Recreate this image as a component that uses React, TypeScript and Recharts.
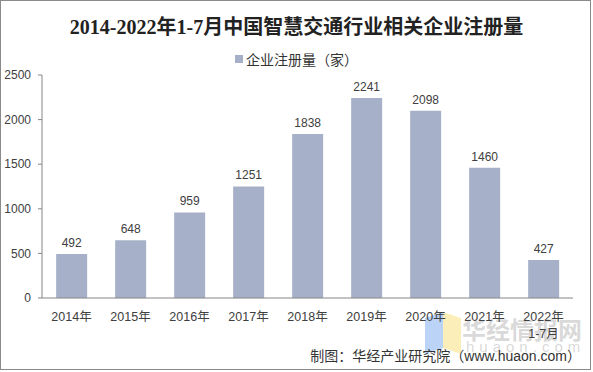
import React from 'react';
import { BarChart, Bar, XAxis, YAxis, LabelList } from 'recharts';

const years = ['2014年', '2015年', '2016年', '2017年', '2018年', '2019年', '2020年', '2021年', '2022年\n1-7月'];
const registrations = [492, 648, 959, 1251, 1838, 2241, 2098, 1460, 427];
const yTicks = [0, 500, 1000, 1500, 2000, 2500];
const seriesName = '企业注册量（家）';
const title = '2014-2022年1-7月中国智慧交通行业相关企业注册量';
const source = '制图：华经产业研究院（www.huaon.com）';

const data = years.map((name, i) => ({ name, val: registrations[i] }));
const boundaries = years.map((_, i) => i).concat(years.length);

const FONT = '"Liberation Sans", Arial, "Noto Sans CJK SC", sans-serif';
const BAR = '#a6b0c8';
const AXIS = '#868686';

const YearTick = (props: any) => {
  const { x, y, payload } = props;
  const lines = String(payload.value).split('\n');
  return (
    <text x={x} y={y} textAnchor="middle" fill="#404040" fontSize={12.5} fontFamily={FONT}>
      {lines.map((l, i) => (
        <tspan key={i} x={x} dy={i === 0 ? '0.71em' : 17}>{l}</tspan>
      ))}
    </text>
  );
};

export default function App() {
  return (
    <div style={{ position: 'absolute', left: 0, top: 0, width: 593, height: 372, background: '#fff' }}>
      <div style={{ position: 'absolute', left: 0, top: 0, width: 591, height: 370, border: '1px solid #8a8a8a', boxSizing: 'border-box' }} />
      <div style={{ position: 'absolute', left: 0, top: 13, width: 593, textAlign: 'center', fontFamily: '"Liberation Serif", "Noto Sans CJK SC", serif', fontWeight: 'bold', fontSize: 20, color: '#222', lineHeight: '28px' }}>
        {title}
      </div>
      <div style={{ position: 'absolute', left: 0, top: 49, width: 593, display: 'flex', justifyContent: 'center', alignItems: 'center', fontFamily: FONT, fontSize: 14, color: '#333' }}>
        <span style={{ width: 8, height: 8, background: BAR, marginRight: 3, display: 'inline-block' }} />
        <span>{seriesName}</span>
      </div>

      {/* watermark */}
      <div style={{ position: 'absolute', left: 425, top: 315, width: 18, height: 36, background: '#a9c8f5', opacity: 0.8, transform: 'skewY(-18deg)' }} />
      <div style={{ position: 'absolute', left: 443, top: 315, width: 18, height: 36, background: '#fbeaa8', opacity: 0.8, transform: 'skewY(18deg)' }} />
      <div style={{ position: 'absolute', left: 462, top: 311, fontFamily: FONT, fontWeight: 'bold', fontSize: 24, color: 'rgba(170,170,170,0.45)', letterSpacing: 0 }}>华经情报网</div>
      <div style={{ position: 'absolute', left: 466, top: 338, fontFamily: FONT, fontSize: 15, color: 'rgba(170,170,170,0.45)', letterSpacing: 5 }}>huaon.com</div>

      <div style={{ position: 'absolute', left: 0, top: 0 }}>
        <BarChart width={593} height={372} data={data} margin={{ top: 75, right: 20, bottom: 34, left: 0 }} barCategoryGap="24%">
          <XAxis
            xAxisId={0}
            type="number"
            domain={[0, years.length]}
            ticks={boundaries}
            allowDataOverflow
            height={0}
            axisLine={false}
            tickSize={5}
            tickLine={{ stroke: AXIS }}
            tickFormatter={() => ''}
          />
          <XAxis
            xAxisId="cat"
            dataKey="name"
            height={40}
            interval={0}
            axisLine={{ stroke: AXIS }}
            tickLine={false}
            tickSize={5}
            tickMargin={9}
            tick={<YearTick />}
          />
          <YAxis
            width={42}
            domain={[0, 2500]}
            ticks={yTicks}
            interval={0}
            axisLine={{ stroke: AXIS }}
            tickLine={{ stroke: AXIS }}
            tickSize={4}
            tickMargin={7}
            tick={{ fill: '#404040', fontSize: 12, fontFamily: FONT }}
          />
          <Bar xAxisId="cat" dataKey="val" name={seriesName} fill={BAR} isAnimationActive={false}>
            <LabelList dataKey="val" position="top" offset={7} fill="#404040" fontSize={12} fontFamily={FONT} />
          </Bar>
        </BarChart>
      </div>

      <div style={{ position: 'absolute', right: 12, top: 345, fontFamily: FONT, fontSize: 14, color: '#333', whiteSpace: 'nowrap' }}>
        {source}
      </div>
    </div>
  );
}
